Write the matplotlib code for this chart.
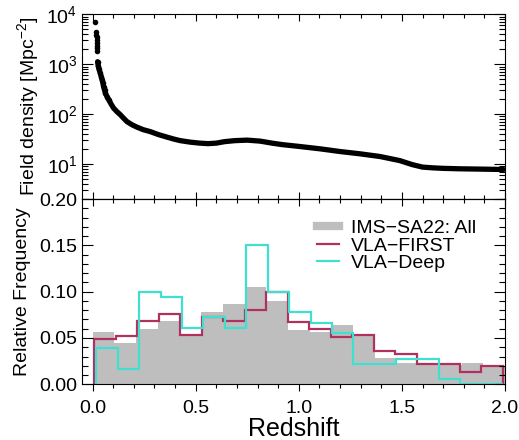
import numpy as np
import matplotlib
matplotlib.use('Agg')
import matplotlib.pyplot as plt
from matplotlib.lines import Line2D
from matplotlib.ticker import MultipleLocator, FormatStrFormatter

plt.rcParams['font.family'] = ['Liberation Sans', 'DejaVu Sans']
plt.rcParams['mathtext.fontset'] = 'custom'
plt.rcParams['mathtext.rm'] = 'Liberation Sans'
plt.rcParams['mathtext.it'] = 'Liberation Sans:italic'
plt.rcParams['axes.unicode_minus'] = True

# top panel: field density vs redshift (log10 values)
z_dots = [0.0097, 0.017, 0.018, 0.019, 0.0195, 0.020, 0.021, 0.022, 0.023]
logd_dots = [3.84, 3.64, 3.59, 3.54, 3.49, 3.43, 3.37, 3.32, 3.27]

z_curve = [0.024, 0.027, 0.031, 0.037, 0.042, 0.046, 0.050, 0.053, 0.058, 0.062,
           0.070, 0.078, 0.090, 0.102, 0.118, 0.134, 0.150, 0.167, 0.190, 0.215,
           0.245, 0.280, 0.320, 0.361, 0.395, 0.425, 0.473, 0.520, 0.560, 0.600,
           0.640, 0.690, 0.750, 0.813, 0.870, 0.920, 1.006, 1.103, 1.200, 1.297,
           1.394, 1.490, 1.550, 1.600, 1.650, 1.700, 1.782, 1.879, 1.992]
logd_curve = [3.05, 2.97, 2.90, 2.82, 2.75, 2.69, 2.62, 2.55, 2.48, 2.42,
              2.35, 2.29, 2.20, 2.12, 2.05, 1.99, 1.92, 1.85, 1.79, 1.74,
              1.69, 1.65, 1.59, 1.54, 1.50, 1.47, 1.44, 1.42, 1.41, 1.42,
              1.45, 1.47, 1.48, 1.46, 1.42, 1.39, 1.352, 1.306, 1.252, 1.206,
              1.152, 1.07, 0.99, 0.94, 0.925, 0.915, 0.906, 0.90, 0.892]

# bottom panel: relative frequency histograms (19 bins each)
all_range = (0.0, 2.0)
all_freq = [0.056, 0.045, 0.060, 0.068, 0.052, 0.078, 0.087, 0.105, 0.0895, 0.059,
            0.056, 0.064, 0.052, 0.028, 0.0225, 0.021, 0.021, 0.0225, 0.019]
first_range = (0.008, 1.989)
first_freq = [0.0487, 0.0516, 0.0685, 0.076, 0.053, 0.0725, 0.0685, 0.080, 0.100, 0.067,
              0.060, 0.0515, 0.053, 0.036, 0.033, 0.0216, 0.0216, 0.0137, 0.0198]
deep_range = (0.018, 1.992)
deep_freq = [0.039, 0.0166, 0.100, 0.094, 0.061, 0.0725, 0.061, 0.150, 0.100, 0.0775,
             0.0667, 0.055, 0.022, 0.022, 0.0274, 0.0274, 0.0057, 0.0, 0.0]
nbins = 19

gray = '#bebebe'
maroon = '#b03060'
turq = '#40e0d0'

fig = plt.figure(figsize=(5.19, 4.4), dpi=100)
ax1 = fig.add_axes([0.1586, 0.5477, 0.8144, 0.4198])
ax2 = fig.add_axes([0.1586, 0.1266, 0.8144, 0.4211], sharex=ax1)

# top panel
ax1.plot(z_curve, 10**np.array(logd_curve), '-', color='k', lw=3.8, solid_capstyle='round')
ax1.plot(z_dots + z_curve[:12], 10**np.array(logd_dots + logd_curve[:12]), 'o',
         color='k', ms=4, mew=0)
ax1.set_yscale('log')
ax1.set_ylim(2, 1e4)
ax1.set_ylabel(r'Field density [Mpc$^{\mathregular{-2}}$]', fontsize=14, labelpad=4)
ax1.tick_params(which='both', direction='in', top=True, right=True,
                labelbottom=False, labelsize=14, width=0.8)
ax1.tick_params(axis='y', which='major', length=8)
ax1.tick_params(axis='y', which='minor', length=4)
ax1.tick_params(axis='x', which='major', length=5)
ax1.tick_params(axis='x', which='minor', length=3)

# bottom panel
ax2.stairs(all_freq, np.linspace(*all_range, nbins + 1), fill=True, color=gray, lw=0)
ax2.stairs(first_freq, np.linspace(*first_range, nbins + 1), color=maroon, lw=1.6)
ax2.stairs(deep_freq, np.linspace(*deep_range, nbins + 1), color=turq, lw=1.6)
ax2.set_xlim(-0.05, 2.0)
ax2.set_ylim(0, 0.2)
ax2.xaxis.set_major_locator(MultipleLocator(0.5))
ax2.xaxis.set_minor_locator(MultipleLocator(0.1))
ax2.xaxis.set_major_formatter(FormatStrFormatter('%.1f'))
ax2.yaxis.set_major_locator(MultipleLocator(0.05))
ax2.yaxis.set_minor_locator(MultipleLocator(0.01))
ax2.yaxis.set_major_formatter(FormatStrFormatter('%.2f'))
ax2.tick_params(axis='y', which='both', direction='in', left=True, right=True,
                labelsize=14, width=0.8)
ax2.tick_params(axis='y', which='major', length=8)
ax2.tick_params(axis='y', which='minor', length=4)
ax2.tick_params(axis='x', which='both', direction='out', top=False,
                labelsize=14, width=0.8, pad=6)
ax2.tick_params(axis='x', which='major', length=5)
ax2.tick_params(axis='x', which='minor', length=3)
sec = ax2.secondary_xaxis('top')
sec.xaxis.set_major_locator(MultipleLocator(0.5))
sec.xaxis.set_minor_locator(MultipleLocator(0.1))
sec.tick_params(which='both', direction='in', labeltop=False, width=0.8)
sec.tick_params(which='major', length=5)
sec.tick_params(which='minor', length=3)
ax2.set_ylabel('Relative Frequency', fontsize=14, labelpad=6)
ax2.set_xlabel('Redshift', fontsize=18, labelpad=0)

handles = [Line2D([], [], color=gray, lw=6),
           Line2D([], [], color=maroon, lw=1.6),
           Line2D([], [], color=turq, lw=1.6)]
labels = ['IMS\u2212SA22: All', 'VLA\u2212FIRST', 'VLA\u2212Deep']
ax2.legend(handles, labels, loc='upper left', bbox_to_anchor=(0.555, 0.89),
           frameon=False, fontsize=14, handlelength=1.13, handletextpad=0.6,
           labelspacing=0.0, borderpad=0, borderaxespad=0)

for ax in (ax1, ax2):
    for s in ax.spines.values():
        s.set_linewidth(0.8)

fig.savefig('out.png', dpi=100)
